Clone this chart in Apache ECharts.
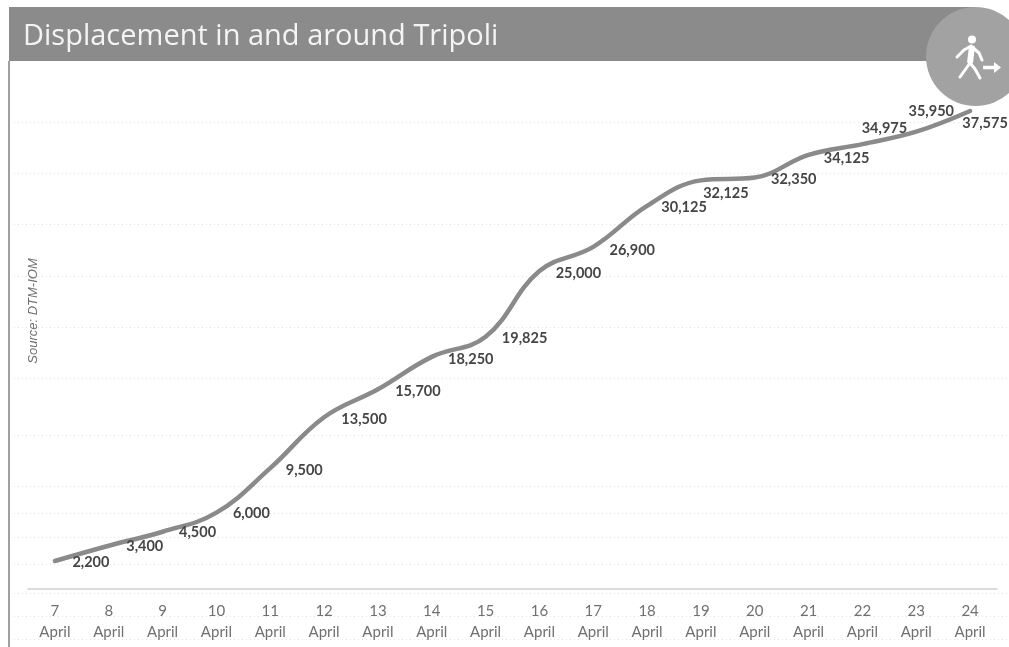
<!DOCTYPE html>
<html lang="en">
<head>
    <meta charset="UTF-8">
    <title>Displacement in and around Tripoli</title>
    <style>
        html, body { margin: 0; padding: 0; background: #fff; }
        #main { width: 1009px; height: 647px; }
    </style>
</head>
<body>
<div id="main"></div>
<script src="https://cdn.jsdelivr.net/npm/echarts@6/dist/echarts.min.js"></script>
<script type="text/javascript">
var days = ['7', '8', '9', '10', '11', '12', '13', '14', '15', '16', '17', '18', '19', '20', '21', '22', '23', '24'];
var month = 'April';
var displaced = [2200, 3400, 4500, 6000, 9500, 13500, 15700, 18250, 19825, 25000, 26900, 30125, 32125, 32350, 34125, 34975, 35950, 37575];
// the faint dotted rules of the original, they don't sit on round numbers
var dottedRules = [36714, 32704, 28656, 24607, 20597, 16588, 12107, 8097, 5975, 4088, 1965, -314, -2123, -3931];
// where each value label sits relative to its point
var labelOffsets = [[36, 1], [36, 1], [35, 1], [35, 1], [34, 2], [40, 2], [40, 2], [39, 2], [39, 2], [39, 2], [39, 3], [37, 2], [25, 13], [39, 2], [38, 3], [22, -16], [15, -20], [15, 12]];

var chart = echarts.init(document.getElementById('main'));

var seriesData = [];
for (var i = 0; i < displaced.length; i++) {
    seriesData.push({
        value: displaced[i],
        label: { offset: labelOffsets[i] }
    });
}

var option = {
    backgroundColor: '#fff',
    animation: false,
    title: {
        text: 'Displacement in and around Tripoli',
        left: 18,
        top: 17,
        textStyle: { color: '#f4f4f4', fontFamily: 'Open Sans', fontSize: 29, fontWeight: 'normal' }
    },
    graphic: [
        { type: 'rect', shape: { x: 9, y: 7, width: 966, height: 54 }, style: { fill: '#8b8b8b' }, z: 0 },
        { type: 'rect', shape: { x: 8, y: 61, width: 2, height: 586 }, style: { fill: '#a0a0a0' }, z: 0 },
        { type: 'circle', shape: { cx: 975.5, cy: 56.5, r: 49.5 }, style: { fill: '#a2a2a2' }, z: 1 },
        { type: 'circle', shape: { cx: 972, cy: 39.5, r: 4 }, style: { fill: '#fff' }, z: 2 },
        { type: 'polyline', shape: { points: [[957, 57], [964, 50], [971, 46], [979, 53], [982, 60]] }, style: { stroke: '#fff', fill: null, lineWidth: 3, lineCap: 'round', lineJoin: 'round' }, z: 2 },
        { type: 'polyline', shape: { points: [[960, 77], [965, 70], [970, 63], [975, 69], [980, 78]] }, style: { stroke: '#fff', fill: null, lineWidth: 3, lineCap: 'round', lineJoin: 'round' }, z: 2 },
        { type: 'line', shape: { x1: 972, y1: 46, x2: 970, y2: 63 }, style: { stroke: '#fff', lineWidth: 6 }, z: 2 },
        { type: 'line', shape: { x1: 983, y1: 67.5, x2: 995, y2: 67.5 }, style: { stroke: '#fff', lineWidth: 3.5 }, z: 2 },
        { type: 'polygon', shape: { points: [[994, 62], [1001, 67.5], [994, 73]] }, style: { fill: '#fff' }, z: 2 },
        {
            type: 'text', x: 33, y: 311, rotation: Math.PI / 2, z: 2,
            style: {
                text: 'Source: DTM-IOM', fill: '#6f6f6f', align: 'center', verticalAlign: 'middle',
                font: 'italic 13px "Liberation Sans"'
            }
        }
    ],
    grid: [
        { left: 28, width: 969, top: 80.2, height: 508.8 },
        { left: 14, right: 0, top: 80.2, height: 559.68 }
    ],
    xAxis: [
        {
            type: 'category',
            gridIndex: 0,
            data: days,
            axisLine: { lineStyle: { color: '#cfcfcf', width: 1.5, type: [3, 1] } },
            axisTick: { show: false },
            axisLabel: {
                interval: 0,
                margin: 12,
                color: '#707070',
                fontFamily: 'Lato',
                fontSize: 15,
                lineHeight: 21,
                formatter: function (d) { return d + '\n' + month; }
            }
        },
        { type: 'value', gridIndex: 1, min: 0, max: 1, show: false }
    ],
    yAxis: [
        { type: 'value', gridIndex: 0, min: 0, max: 40000, show: false },
        {
            type: 'value',
            gridIndex: 1,
            min: -4000,
            max: 40000,
            axisLine: { show: false },
            axisLabel: { show: false },
            axisTick: { show: false, customValues: dottedRules },
            splitLine: { show: true, lineStyle: { color: '#e2e2e2', width: 1, type: [1, 3] } }
        }
    ],
    series: [
        {
            type: 'line',
            xAxisIndex: 0,
            yAxisIndex: 0,
            data: seriesData,
            smooth: 0.4,
            symbol: 'circle',
            symbolSize: 1,
            itemStyle: { color: '#8a8a8a' },
            lineStyle: { color: '#8a8a8a', width: 4.5, cap: 'round' },
            label: {
                show: true,
                position: 'inside',
                align: 'center',
                verticalAlign: 'middle',
                color: '#454545',
                fontFamily: 'Lato',
                fontWeight: 'bold',
                fontSize: 14.5,
                formatter: function (p) { return p.value.toLocaleString('en-US'); }
            }
        }
    ]
};
chart.setOption(option);
</script>
</body>
</html>
